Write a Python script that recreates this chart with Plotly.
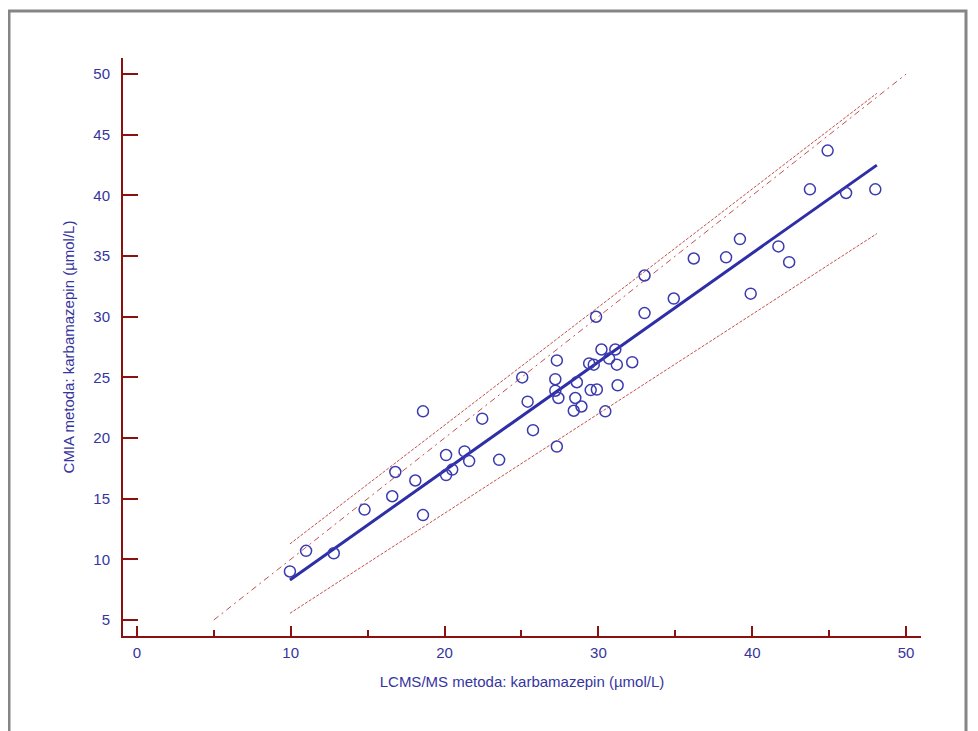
import plotly.graph_objects as go

# Measured data (LCMS/MS vs CMIA, karbamazepin, µmol/L)
lcms = [9.95, 11.0, 12.8, 14.8, 16.6, 16.8, 18.1, 18.6, 18.6, 20.1, 20.1, 20.5, 21.3, 21.6,
        22.45, 23.55, 25.05, 25.4, 25.75, 27.3, 27.2, 27.2, 27.4, 27.3, 28.6, 28.5, 28.4,
        28.9, 29.4, 29.7, 29.5, 29.9, 29.85, 30.2, 30.45, 30.7, 31.1, 31.2, 31.25, 32.2,
        33.0, 33.0, 34.9, 36.2, 38.3, 39.2, 39.9, 41.7, 42.4, 43.75, 44.9, 46.1, 48.0]
cmia = [9.0, 10.7, 10.5, 14.1, 15.2, 17.2, 16.5, 13.65, 22.2, 18.6, 16.95, 17.4, 18.9, 18.1,
        21.6, 18.2, 25.0, 23.0, 20.65, 26.4, 24.85, 23.9, 23.3, 19.3, 24.6, 23.3, 22.25,
        22.6, 26.15, 26.05, 23.95, 24.0, 30.0, 27.3, 22.2, 26.55, 27.3, 26.05, 24.35, 26.25,
        33.4, 30.3, 31.5, 34.8, 34.9, 36.4, 31.9, 35.8, 34.5, 40.5, 43.7, 40.2, 40.5]

# Regression line and confidence bounds (end points)
fit_x = [9.95, 48.1]
fit_y = [8.3, 42.5]
upper_x = [9.95, 48.1]
upper_y = [11.27, 48.42]
lower_x = [9.95, 48.1]
lower_y = [5.55, 36.85]
ident_x = [5, 50]
ident_y = [5, 50]

x_title = "LCMS/MS metoda: karbamazepin (µmol/L)"
y_title = "CMIA metoda: karbamazepin (µmol/L)"

AXIS = "#8b1010"
BLUE = "#2e2ea6"
LABEL = "#3535a0"
RED = "#c0504d"
FONT = "Liberation Sans, Arial, sans-serif"

fig = go.Figure()
fig.add_trace(go.Scatter(x=upper_x, y=upper_y, mode="lines",
                         line=dict(color=RED, width=1, dash="3px,1.5px")))
fig.add_trace(go.Scatter(x=lower_x, y=lower_y, mode="lines",
                         line=dict(color=RED, width=1, dash="3px,1.5px")))
fig.add_trace(go.Scatter(x=ident_x, y=ident_y, mode="lines",
                         line=dict(color=RED, width=1, dash="6px,4px,2px,4px")))
fig.add_trace(go.Scatter(x=fit_x, y=fit_y, mode="lines",
                         line=dict(color=BLUE, width=3)))
fig.add_trace(go.Scatter(x=lcms, y=cmia, mode="markers",
                         marker=dict(symbol="circle-open", size=11, color="#3b3bb0",
                                     line=dict(width=1.5, color="#3b3bb0"))))

fig.update_layout(
    width=970, height=723,
    margin=dict(l=115, r=57, t=50, b=95),
    paper_bgcolor="white", plot_bgcolor="white",
    showlegend=False,
    font=dict(family=FONT, color=LABEL, size=15),
    xaxis=dict(range=[-0.9, 50.97], showline=True, linecolor=AXIS, linewidth=2,
               ticks="inside", ticklen=10, tickwidth=2, tickcolor=AXIS,
               tick0=0, dtick=10, showgrid=False, zeroline=False,
               minor=dict(ticks="inside", ticklen=6, tickwidth=2, tickcolor=AXIS,
                          tick0=0, dtick=5, showgrid=False),
               tickfont=dict(size=15, color=LABEL, family=FONT),
               ticklabelstandoff=2,
               title=dict(text=x_title, font=dict(size=15, color=LABEL, family=FONT),
                          standoff=16)),
    yaxis=dict(range=[3.68, 51.33], showline=True, linecolor=AXIS, linewidth=2,
               ticks="inside", ticklen=15, tickwidth=2, tickcolor=AXIS,
               tick0=0, dtick=5, showgrid=False, zeroline=False,
               tickfont=dict(size=15, color=LABEL, family=FONT),
               ticklabelstandoff=8,
               title=dict(text=y_title, font=dict(size=15, color=LABEL, family=FONT),
                          standoff=15)),
    shapes=[dict(type="rect", xref="paper", yref="paper",
                 x0=(9 - 123) / 798, x1=(966 - 123) / 798,
                 y0=(636 - 760) / 578, y1=(636 - 11) / 578,
                 line=dict(color="#858585", width=3), layer="below")],
)

fig.write_html("out.html")
